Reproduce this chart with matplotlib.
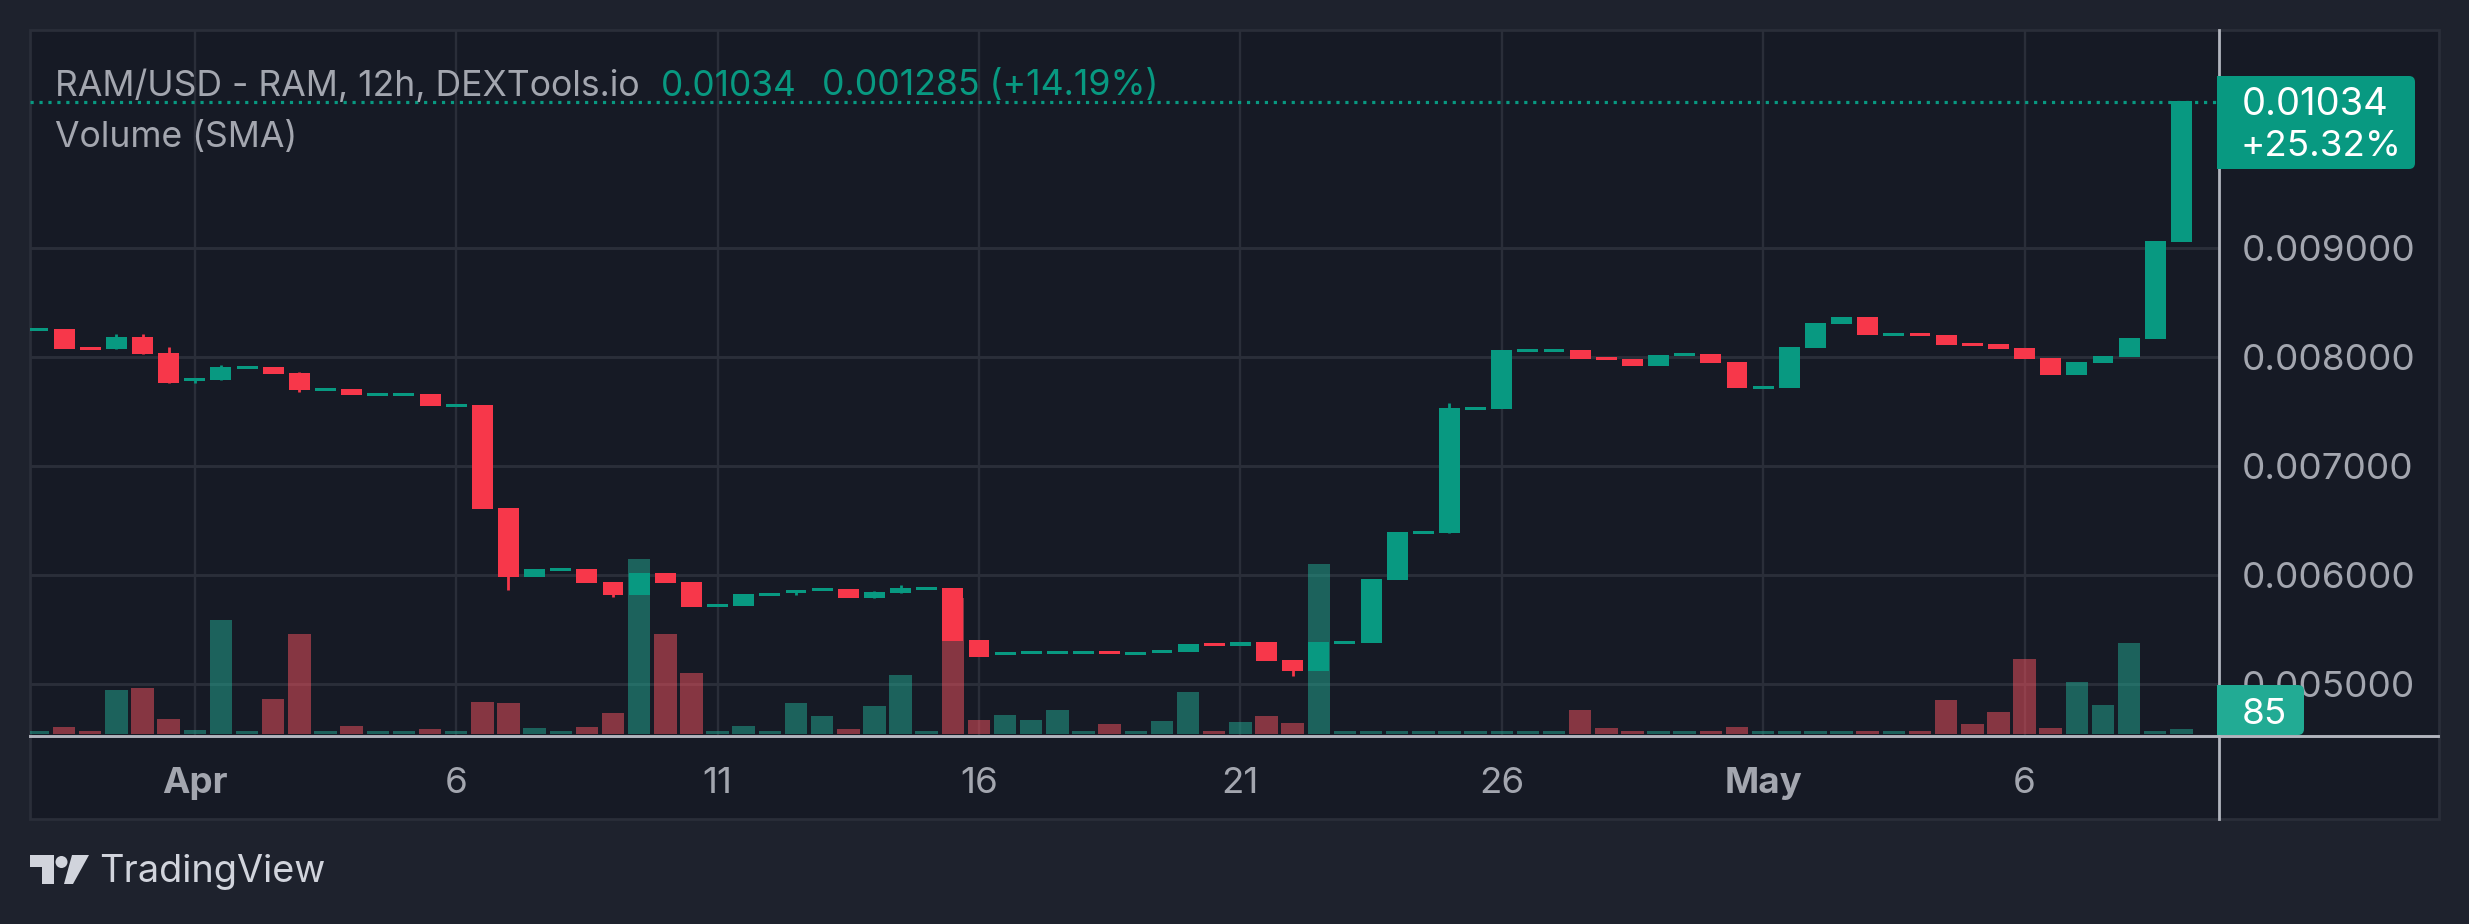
import matplotlib
matplotlib.use('Agg')
import matplotlib.pyplot as plt
import numpy as np
from matplotlib.patches import FancyBboxPatch, Polygon, Circle, Rectangle
from matplotlib.transforms import Affine2D

plt.rcParams['font.family'] = ['Inter', 'DejaVu Sans']

# 12h candles, index 0 is the Apr gridline
bar_idx = np.arange(-6, 77)
opens = [8.241, 8.260, 8.095, 8.076, 8.186, 8.040, 7.783, 7.792, 7.893, 7.911,
         7.856, 7.691, 7.709, 7.645, 7.645, 7.663, 7.544, 7.563, 6.618, 5.985,
         6.040, 6.058, 5.939, 5.820, 6.021, 5.939, 5.709, 5.719, 5.810, 5.838,
         5.856, 5.875, 5.792, 5.838, 5.865, 5.884, 5.407, 5.269, 5.278, 5.278,
         5.278, 5.306, 5.269, 5.287, 5.297, 5.379, 5.352, 5.388, 5.223, 5.122,
         5.370, 5.379, 5.957, 6.379, 6.388, 7.517, 7.526, 8.049, 8.049, 8.067,
         8.003, 7.985, 7.920, 8.012, 8.030, 7.957, 7.709, 7.719, 8.085, 8.306,
         8.370, 8.196, 8.223, 8.205, 8.131, 8.122, 8.085, 7.994, 7.838, 7.948,
         8.003, 8.168, 9.058]
closes = [8.269, 8.076, 8.067, 8.186, 8.030, 7.764, 7.810, 7.911, 7.920, 7.847,
          7.700, 7.719, 7.654, 7.673, 7.673, 7.553, 7.572, 6.608, 5.985, 6.058,
          6.067, 5.930, 5.820, 6.021, 5.930, 5.709, 5.737, 5.829, 5.838, 5.865,
          5.884, 5.792, 5.847, 5.884, 5.893, 5.398, 5.251, 5.297, 5.306, 5.306,
          5.306, 5.278, 5.297, 5.315, 5.370, 5.352, 5.388, 5.214, 5.122, 5.388,
          5.398, 5.966, 6.397, 6.407, 7.535, 7.544, 8.067, 8.076, 8.076, 7.985,
          7.975, 7.920, 8.021, 8.040, 7.948, 7.719, 7.737, 8.095, 8.315, 8.370,
          8.205, 8.223, 8.196, 8.113, 8.104, 8.076, 7.985, 7.838, 7.957, 8.012,
          8.177, 9.067, 10.350]
# only the candles that have a wick poking out of the body
wick_idx = [-3, -2, -1, 0, 1, 4, 12, 16, 23, 26, 27, 42, 48]
wick_low = [8.076, 8.030, 7.764, 7.764, 7.792, 7.682, 5.865, 5.801, 5.820, 5.792, 5.838, 5.076, 6.388]
wick_high = [8.214, 8.214, 8.095, 7.810, 7.930, 7.865, 6.618, 5.939, 5.865, 5.856, 5.911, 5.223, 7.581]

volumes = [51, 119, 51, 748, 782, 255, 68, 1938, 51, 595,
           1700, 51, 136, 51, 51, 85, 51, 544, 527, 102,
           51, 119, 357, 2975, 1700, 1037, 51, 136, 51, 527,
           306, 85, 476, 1003, 51, 2312, 238, 323, 238, 408,
           51, 170, 51, 221, 714, 51, 204, 306, 187, 2890,
           51, 51, 51, 51, 51, 51, 51, 51, 51, 408,
           102, 51, 51, 51, 51, 119, 51, 51, 51, 51,
           51, 51, 51, 578, 170, 374, 1275, 102, 884, 493,
           1547, 51, 85]
vol_up = [1, 0, 0, 1, 0, 0, 1, 1, 1, 0,
          0, 1, 0, 1, 1, 0, 1, 0, 0, 1,
          1, 0, 0, 1, 0, 0, 1, 1, 1, 1,
          1, 0, 1, 1, 1, 0, 0, 1, 1, 1,
          1, 0, 1, 1, 1, 0, 1, 0, 0, 1,
          1, 1, 1, 1, 1, 1, 1, 1, 1, 0,
          0, 0, 1, 1, 0, 0, 1, 1, 1, 1,
          0, 1, 0, 0, 0, 0, 0, 0, 1, 1,
          1, 1, 1]

time_ticks = [0, 10, 20, 30, 40, 50, 60, 70]
time_labels = ['Apr', '6', '11', '16', '21', '26', 'May', '6']
price_ticks = [9, 8, 7, 6, 5]
price_labels = ['0.009000', '0.008000', '0.007000', '0.006000', '0.005000']
last_price = '0.01034'
last_change = '+25.32%'
last_volume = '85'

BG = '#1E222D'
PANEL = '#161A25'
GRID = '#2A2E39'
AXIS = '#B2B5BE'
TEXT = '#A3A6AF'
UP = '#089981'
DOWN = '#F7374A'
VOL_UP = '#22AB94'
VOL_DOWN = '#F7525F'

W, H = 2469, 924
fig = plt.figure(figsize=(W / 100, H / 100), dpi=100, facecolor=BG)
# decorations are placed in image pixels, y going down
px = Affine2D().scale(1, -1).translate(0, H)

fig.add_artist(Rectangle((30, 30), 2409, 789, transform=px, facecolor=PANEL,
                         edgecolor=GRID, linewidth=2, zorder=0))

rect = [30 / W, 1 - 736.3 / H, (2218.5 - 30) / W, (736.3 - 30) / H]
xlim = (-6.305, 77.42)

# grid and tick labels go on the back axes, volume over them, candles on top
ax = fig.add_axes(rect, zorder=1)
ax.patch.set_visible(False)
ax.set_xlim(xlim)
ax.set_ylim(4.523, 11.003)
ax.set_xticks(time_ticks, time_labels)
ax.yaxis.tick_right()
ax.set_yticks(price_ticks, price_labels)
ax.tick_params(length=0, labelcolor=TEXT, labelsize=26.5)
ax.tick_params(axis='x', pad=22)
ax.tick_params(axis='y', pad=16.5)
for lab in ax.get_xticklabels():
    if lab.get_text() in ('Apr', 'May'):
        lab.set_fontweight('bold')
ax.grid(axis='x', color=GRID, linewidth=1.7)
ax.grid(axis='y', color=GRID, linewidth=2.1)
for s in ax.spines.values():
    s.set_visible(False)

ax_vol = fig.add_axes(rect, zorder=2)
ax_vol.patch.set_visible(False)
ax_vol.set_xlim(xlim)
ax_vol.set_ylim(-39, 11968)
ax_vol.axis('off')
ax_vol.bar(bar_idx, volumes, width=0.86, alpha=0.5,
           color=[VOL_UP if u else VOL_DOWN for u in vol_up])

ax_c = fig.add_axes(rect, zorder=3)
ax_c.patch.set_visible(False)
ax_c.set_xlim(xlim)
ax_c.set_ylim(ax.get_ylim())
ax_c.axis('off')
ax_c.plot(xlim, [closes[-1] - 0.01, closes[-1] - 0.01], color=UP, linewidth=2.3,
          linestyle=(0, (1, 1.8)), dash_capstyle='butt', zorder=1)
opens = np.array(opens)
closes = np.array(closes)
colors = np.where(closes >= opens, UP, DOWN)
wick_colors = [colors[list(bar_idx).index(i)] for i in wick_idx]
ax_c.vlines(wick_idx, wick_low, wick_high, colors=wick_colors, linewidth=2, zorder=2)
ax_c.bar(bar_idx, closes - opens, bottom=opens, width=0.8, color=colors, zorder=3)

# axis separators
fig.add_artist(plt.Line2D([30, 2438], [736.3, 736.3], transform=px, color=AXIS, linewidth=2.1, zorder=4))
fig.add_artist(plt.Line2D([2218.5, 2218.5], [30, 819], transform=px, color=AXIS, linewidth=2, zorder=4))


def price_tag(x0, y0, x1, y1, color):
    fig.add_artist(FancyBboxPatch((x0 + 6, y0 + 6), x1 - x0 - 12, y1 - y0 - 12,
                                  boxstyle='round,pad=6,rounding_size=6', transform=px,
                                  facecolor=color, edgecolor='none', zorder=5))
    fig.add_artist(Rectangle((x0, y0), 12, y1 - y0, transform=px, facecolor=color,
                             edgecolor='none', zorder=5))


price_tag(2217, 76, 2415, 169, UP)
price_tag(2217, 685, 2304, 735, VOL_UP)
tag_text = dict(transform=px, color='white', ha='left', va='center', zorder=6)
fig.text(2242, 105, last_price, fontsize=27.5, **tag_text)
fig.text(2241, 146, last_change, fontsize=26.5, **tag_text)
fig.text(2242, 714, last_volume, fontsize=26.5, **tag_text)

# legend lines
legend_text = dict(transform=px, ha='left', va='center', zorder=4)
fig.text(55, 86, 'RAM/USD - RAM, 12h, DEXTools.io', color=TEXT, fontsize=25.6, **legend_text)
fig.text(661, 86, last_price, color=UP, fontsize=25.4, **legend_text)
fig.text(822, 86, '0.001285 (+14.19%)', color=UP, fontsize=25.7, **legend_text)
fig.text(55, 138, 'Volume (SMA)', color=TEXT, fontsize=25.6, **legend_text)

# TradingView logo
LOGO = '#D1D4DC'
fig.add_artist(Polygon([(30, 855), (54, 855), (54, 884), (42, 884), (42, 867), (30, 867)],
                       transform=px, facecolor=LOGO, edgecolor='none', zorder=4))
fig.add_artist(Circle((61.5, 862), 6, transform=px, facecolor=LOGO, edgecolor='none', zorder=4))
fig.add_artist(Polygon([(72, 855), (89, 855), (73, 884), (64, 884)],
                       transform=px, facecolor=LOGO, edgecolor='none', zorder=4))
fig.text(99, 872, 'TradingView', transform=px, color=LOGO, fontsize=27.3, ha='left', va='center', zorder=4)

fig.savefig('out.png', dpi=100, facecolor=BG)
